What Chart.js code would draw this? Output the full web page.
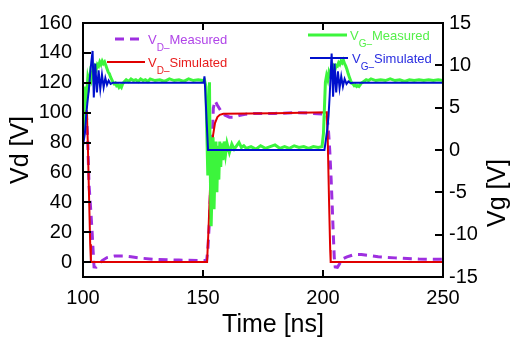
<!DOCTYPE html>
<html>
<head>
<meta charset="utf-8">
<script src="https://cdn.jsdelivr.net/npm/chart.js@4.4.0/dist/chart.umd.min.js"></script>
<style>
  html, body { margin: 0; padding: 0; background: #fff; }
  #wrap { width: 512px; height: 338px; }
</style>
</head>
<body>
<div id="wrap"><canvas id="pulseChart" width="512" height="338"></canvas></div>
<script>
// axis ticks
const timeTicks = [100, 150, 200, 250];
const vdTicks = [0, 20, 40, 60, 80, 100, 120, 140, 160];
const vgTicks = [-15, -10, -5, 0, 5, 10, 15];

// V_D measured [V] (left axis)
const vdMeasTime = [100, 101.5, 102.0, 102.5, 103.3, 103.8, 104.2, 104.6, 105.5, 106.5,
  108, 110, 113, 117, 120, 125, 130, 140, 151.5, 152.0,
  152.6, 153.2, 153.8, 154.3, 155.0, 156.0, 157.5, 159, 161, 163,
  165, 168, 172, 180, 190, 201.5, 202.2, 202.8, 203.4, 203.9,
  204.3, 204.7, 205.1, 206, 207, 208, 210, 213, 216, 219,
  223, 230, 240, 250];
const vdMeasVal = [100, 98, 80, 52, 33, 20, 8, -3.3, -3.5, -2,
  1, 3, 4, 4, 3.5, 2.5, 1.8, 1.3, 1, 8,
  25, 50, 78, 103, 108, 105, 101, 98.5, 97, 97,
  98, 99, 99.5, 99.5, 100, 99, 90, 75, 55, 35,
  18, 3, -3.3, -3.5, -1, 2, 3.5, 5, 5, 4.5,
  3.5, 2.8, 2, 1.8];

// V_D simulated [V]
const vdSimTime = [100, 101.6, 102.0, 102.5, 103.0, 103.3, 151.7, 152.3, 152.9, 153.5,
  154.2, 155.0, 156.0, 157.0, 158.5, 180, 201.6, 202.0, 202.5, 203.0,
  203.2, 250];
const vdSimVal = [101, 101, 80, 45, 12, 0, 0, 22, 48, 70,
  85, 93, 97, 98.5, 99.2, 99.6, 100.3, 80, 42, 8,
  0, 0];

// V_G measured [V] (right axis)
const vgMeasTime = [100, 100.5, 101, 101.5, 102, 102.5, 103, 103.5, 104, 104.5,
  105, 105.5, 106, 106.5, 107, 107.5, 108, 108.5, 109, 109.5,
  110, 110.5, 111, 111.5, 112, 112.5, 113, 113.5, 114, 114.5,
  115, 115.5, 116, 116.5, 117, 118, 119, 120, 121, 122,
  123, 124, 125, 126, 127, 128, 130, 132, 134, 136,
  138, 140, 142, 144, 146, 148, 150, 150.6, 151.2, 151.6,
  152, 152.3, 152.7, 153, 153.4, 153.8, 154.2, 154.6, 155, 155.4,
  155.8, 156.2, 156.6, 157, 157.4, 157.8, 158.3, 158.8, 159.4, 160,
  161, 162, 163, 164, 165, 166, 167, 168, 170, 172,
  174, 176, 178, 180, 182, 184, 186, 188, 190, 192,
  194, 196, 198, 199.6, 200.2, 200.6, 201, 201.5, 202, 202.5,
  203, 203.5, 204, 204.5, 205, 205.5, 206, 206.5, 207, 207.5,
  208, 208.5, 209, 209.5, 210, 210.5, 211, 211.5, 212, 212.5,
  213, 213.5, 214, 214.5, 215, 216, 217, 218, 219, 220,
  222, 224, 226, 228, 230, 232, 234, 236, 238, 240,
  242, 244, 246, 248, 250];
const vgMeasVal = [1.5, 4.5, 7.5, 6.5, 8.5, 7.8, 9, 8.4, 9.3, 9.0,
  9.8, 9.5, 10.1, 9.9, 10.4, 10.1, 10.5, 10.2, 10.4, 10.0,
  9.6, 9.2, 9.0, 8.6, 8.3, 8.0, 7.8, 7.9, 7.6, 7.7,
  7.4, 7.6, 7.4, 7.8, 8.0, 8.3, 8.1, 8.4, 8.2, 8.3,
  8.1, 8.4, 8.2, 8.3, 8.1, 8.4, 8.2, 8.3, 8.1, 8.4,
  8.2, 8.3, 8.1, 8.4, 8.2, 8.3, 8.2, 8.3, 7.5, 2,
  -3, 4, 8, -2, -9, -4, 1.5, -7, -2, 1,
  -5, 0.5, -3.5, 1, -2, 0.8, -1.2, 1, -0.5, 0.8,
  -0.3, 0.7, 0.1, 0.5, 0.9, 0.3, 0.5, 0.2, 0.4, 0.1,
  0.5, 0.2, 0.4, 0.6, 0.2, 0.4, 0.2, 0.5, 0.3, 0.4,
  0.2, 0.4, 0.3, 0.4, 2, 5, 8, 8.8, 8.3, 9.2,
  8.8, 9.5, 9.1, 9.8, 9.5, 10.0, 9.9, 10.3, 10.1, 10.5,
  10.3, 10.6, 10.2, 9.9, 9.5, 9.0, 8.6, 8.2, 7.9, 7.8,
  7.6, 7.7, 7.5, 7.6, 7.5, 7.9, 8.1, 8.3, 8.2, 8.4,
  8.2, 8.3, 8.2, 8.4, 8.2, 8.3, 8.1, 8.3, 8.2, 8.3,
  8.2, 8.3, 8.2, 8.3, 8.2];

// V_G simulated [V]
const vgSimTime = [100, 100.8, 101.3, 101.8, 102.4, 103.0, 103.5, 104.0, 104.5, 105.1,
  105.8, 106.5, 107.2, 107.9, 108.6, 109.3, 110, 110.7, 111.5, 112.5,
  150.3, 150.6, 150.9, 151.5, 152.1, 200.6, 201.2, 201.8, 202.3, 202.8,
  203.2, 203.6, 204.2, 204.8, 205.5, 206.2, 206.9, 207.6, 208.3, 209,
  209.8, 210.6, 211.5, 212.5, 250];
const vgSimVal = [0.5, 2, 4, 5.5, 7, 9, 10.5, 11.7, 6.2, 10.2,
  6.8, 9.4, 7.2, 8.9, 7.4, 8.5, 7.7, 8.2, 7.8, 7.95,
  7.95, 8.7, 7.2, 3.5, 0, 0, 1.2, 2.5, 4, 6.5,
  9, 11.4, 6.3, 10.2, 6.8, 9.3, 7.3, 8.7, 7.5, 8.4,
  7.8, 8.1, 7.9, 7.95, 7.95];

function toPoints(xs, ys) {
  return xs.map((x, i) => ({ x: x, y: ys[i] }));
}

const FONT = '"Liberation Sans", Arial, sans-serif';
const PURPLE = '#9e2fe0';
const RED = '#e00000';
const GREEN = '#3cf53c';
const BLUE = '#0010cc';

// legend entries: main letter, subscript, rest of label
const legendRows = [
  { main: 'V', sub: 'D\u2013', text: 'Measured', color: '#b044e8', line: PURPLE, dash: [9, 6], width: 3, x0: 115, x1: 143, y: 39, tx: 148 },
  { main: 'V', sub: 'D\u2013', text: 'Simulated', color: '#e81c1c', line: RED, dash: [], width: 2, x0: 107, x1: 145, y: 62, tx: 148 },
  { main: 'V', sub: 'G\u2013', text: 'Measured', color: '#55f04a', line: GREEN, dash: [], width: 3, x0: 308, x1: 347, y: 35, tx: 350 },
  { main: 'V', sub: 'G\u2013', text: 'Simulated', color: '#2a2ee0', line: BLUE, dash: [], width: 2, x0: 310, x1: 348, y: 58, tx: 352 }
];

// box, inward ticks, legend and titles
const decorPlugin = {
  id: 'decor',
  afterDatasetsDraw(chart) {
    const { ctx, chartArea: a, scales } = chart;
    ctx.save();
    ctx.strokeStyle = '#000';
    ctx.lineWidth = 2;
    ctx.setLineDash([]);
    ctx.strokeRect(a.left, a.top, a.right - a.left, a.bottom - a.top);
    ctx.beginPath();
    vdTicks.forEach(v => {
      const y = Math.round(scales.y.getPixelForValue(v));
      ctx.moveTo(a.left, y); ctx.lineTo(a.left + 8, y);
    });
    vgTicks.forEach(v => {
      const y = Math.round(scales.y2.getPixelForValue(v));
      ctx.moveTo(a.right, y); ctx.lineTo(a.right - 8, y);
    });
    timeTicks.forEach(t => {
      const x = Math.round(scales.x.getPixelForValue(t));
      ctx.moveTo(x, a.bottom); ctx.lineTo(x, a.bottom - 7);
      ctx.moveTo(x, a.top); ctx.lineTo(x, a.top + 7);
    });
    ctx.stroke();

    // legend
    legendRows.forEach(r => {
      ctx.beginPath();
      ctx.strokeStyle = r.line;
      ctx.lineWidth = r.width;
      ctx.setLineDash(r.dash);
      ctx.moveTo(r.x0, r.y); ctx.lineTo(r.x1, r.y);
      ctx.stroke();
      ctx.setLineDash([]);
      ctx.fillStyle = r.color;
      ctx.textBaseline = 'alphabetic';
      ctx.textAlign = 'left';
      let x = r.tx;
      ctx.font = '13px ' + FONT;
      ctx.fillText(r.main, x, r.y + 5);
      x += ctx.measureText(r.main).width;
      ctx.font = '10px ' + FONT;
      ctx.fillText(r.sub, x, r.y + 12);
      x += ctx.measureText(r.sub).width;
      ctx.font = '13px ' + FONT;
      ctx.fillText(r.text, x, r.y + 5);
    });

    // axis titles
    ctx.fillStyle = '#000';
    ctx.font = '25px ' + FONT;
    ctx.textAlign = 'center';
    ctx.textBaseline = 'middle';
    ctx.fillText('Time [ns]', 273, 325);
    ctx.translate(498, 193);
    ctx.rotate(-Math.PI / 2);
    ctx.fillText('Vg [V]', 0, 0);
    ctx.restore();
  }
};

const ctx = document.getElementById('pulseChart').getContext('2d');
const pulseChart = new Chart(ctx, {
  type: 'line',
  data: {
    datasets: [
      { label: 'VG_Simulated', data: toPoints(vgSimTime, vgSimVal), yAxisID: 'y2',
        borderColor: BLUE, borderWidth: 2, order: 0 },
      { label: 'VG_Measured', data: toPoints(vgMeasTime, vgMeasVal), yAxisID: 'y2',
        borderColor: GREEN, borderWidth: 3, order: 1 },
      { label: 'VD_Simulated', data: toPoints(vdSimTime, vdSimVal), yAxisID: 'y',
        borderColor: RED, borderWidth: 2, order: 2 },
      { label: 'VD_Measured', data: toPoints(vdMeasTime, vdMeasVal), yAxisID: 'y',
        borderColor: PURPLE, borderWidth: 3, borderDash: [9, 6], order: 3 }
    ]
  },
  options: {
    responsive: false,
    animation: false,
    devicePixelRatio: 1,
    layout: { padding: { top: 22, left: 0, right: 0, bottom: 0 } },
    elements: { point: { radius: 0 }, line: { tension: 0, fill: false } },
    plugins: { legend: { display: false }, tooltip: { enabled: false } },
    scales: {
      x: {
        type: 'linear', min: 100, max: 250,
        afterBuildTicks: s => { s.ticks = timeTicks.map(v => ({ value: v })); },
        afterFit: s => { s.height = 61; },
        grid: { display: false, drawTicks: false },
        border: { display: false },
        ticks: { color: '#000', font: { family: FONT, size: 20 }, padding: 9,
          maxRotation: 0, autoSkip: false, callback: v => String(v) }
      },
      y: {
        position: 'left', min: -10, max: 160,
        afterBuildTicks: s => { s.ticks = vdTicks.map(v => ({ value: v })); },
        afterFit: s => { s.width = 83; },
        grid: { display: false, drawTicks: false },
        border: { display: false },
        ticks: { color: '#000', font: { family: FONT, size: 20 }, padding: 11,
          callback: v => String(v) },
        title: { display: true, text: 'Vd [V]', color: '#000',
          font: { family: FONT, size: 25, lineHeight: 1.0 }, padding: { top: 9, bottom: 0 } }
      },
      y2: {
        position: 'right', min: -15, max: 15,
        afterBuildTicks: s => { s.ticks = vgTicks.map(v => ({ value: v })); },
        afterFit: s => { s.width = 69; },
        grid: { display: false, drawTicks: false },
        border: { display: false },
        ticks: { color: '#000', font: { family: FONT, size: 20 }, padding: 6,
          callback: v => String(v) }
      }
    }
  },
  plugins: [decorPlugin]
});
</script>
</body>
</html>
